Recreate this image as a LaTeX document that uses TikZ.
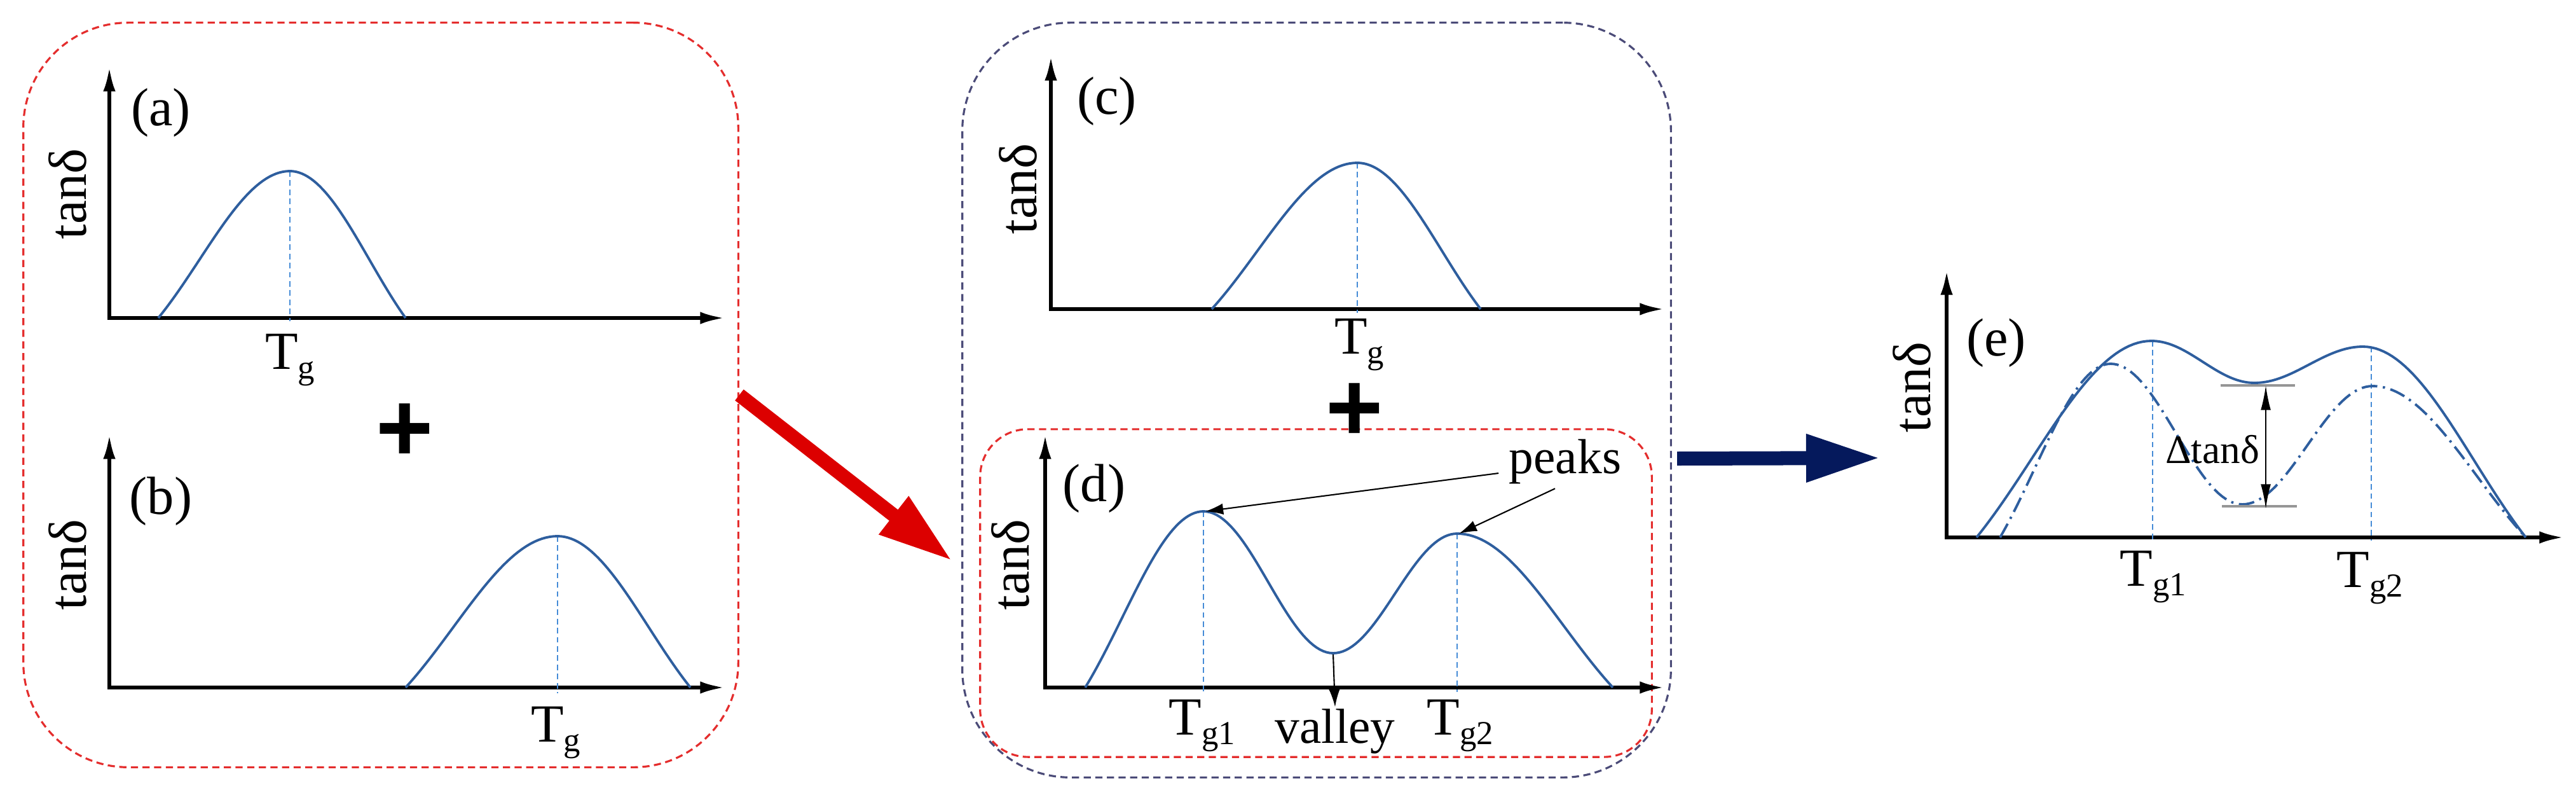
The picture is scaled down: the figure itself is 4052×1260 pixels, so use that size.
\documentclass[tikz,border=0pt]{standalone}
\usepackage{fontspec}
\setmainfont{Liberation Serif}
\setsansfont{Liberation Sans}
\newfontfamily\timesfont{Liberation Serif}
\newfontfamily\plusfont{Liberation Sans}
\usetikzlibrary{arrows.meta}
\definecolor{curveblue}{RGB}{46,94,158}
\definecolor{guideblue}{RGB}{70,140,215}
\definecolor{boxred}{RGB}{228,45,45}
\definecolor{boxnavy}{RGB}{75,75,120}
\definecolor{arrowred}{RGB}{220,0,0}
\definecolor{arrownavy}{RGB}{5,25,92}
\definecolor{bargray}{RGB}{150,150,150}
\newcommand{\Tsub}[1]{T\raisebox{-4.5pt}{\fontsize{15}{15}\selectfont #1}}
\begin{document}
\begin{tikzpicture}[x=0.01cm,y=-0.01cm,
  axisline/.style={line width=1.6pt, {Latex[length=11pt,width=5.5pt]}-{Latex[length=11pt,width=5.5pt]}},
  curve/.style={line width=1.1pt, draw=curveblue},
  ddcurve/.style={curve, dash pattern=on 7pt off 2.5pt on 1pt off 2.5pt},
  guide/.style={line width=0.8pt, draw=guideblue, dash pattern=on 2.5pt off 1.6pt},
  lbl/.style={font=\timesfont\fontsize{24}{28}\selectfont, inner sep=0pt},
  smalllbl/.style={font=\timesfont\fontsize{22}{26}\selectfont, inner sep=0pt},
  ylbl/.style={lbl, rotate=90},
  ptr/.style={line width=0.6pt, -{Latex[length=8pt,width=5pt]}},
  dblptr/.style={line width=0.6pt, {Latex[length=11pt,width=4.5pt]}-{Latex[length=11pt,width=4.5pt]}},
  bigarrow/.style={line width=0.22cm, -{Triangle[length=1.17cm,width=0.7cm]}},
  roundbox/.style={draw, line width=0.9pt, dash pattern=on 3.2pt off 2pt, inner sep=0pt},
  plus/.style={font=\plusfont\bfseries\fontsize{44}{44}\selectfont, inner sep=0pt},
  bar/.style={line width=1.3pt, draw=bargray}
]
\useasboundingbox (0,0) rectangle (4052,1260);

% ---------- boxes ----------
\node[roundbox, draw=boxred, minimum width=11.24cm, minimum height=11.70cm, rounded corners=1.65cm] (boxA) at (599,621) {};
\node[roundbox, draw=boxnavy, minimum width=11.14cm, minimum height=11.86cm, rounded corners=1.7cm] (boxCD) at (2071,629) {};
\node[roundbox, draw=boxred, minimum width=10.56cm, minimum height=5.15cm, rounded corners=0.75cm] (boxD) at (2070,932.5) {};

% ---------- panel (a) ----------
\draw[axisline] (172,105) -- (172,500) -- (1140,500);
\draw[guide] (456,269) -- (456,505);
\draw[curve] plot[domain=0:1,samples=40] ({249+207*\x},{500-231*sin(90*\x)*(0.7+0.3*sin(90*\x))})
  -- plot[domain=0:1,samples=40] ({456+182*\x},{500-231*cos(90*\x)*(0.7+0.3*cos(90*\x))});
\node[lbl] (la) at (253,177) {(a)};
\node[ylbl] (ya) at (106,305) {tanδ};
\node[lbl, anchor=base] (tga) at (456,580) {\Tsub{g}};

\node[plus] (plusA) at (637,680) {+};

% ---------- panel (b) ----------
\draw[axisline] (172,683) -- (172,1081) -- (1140,1081);
\draw[guide] (877,843) -- (877,1090);
\draw[curve] plot[domain=0:1,samples=40] ({638+239*\x},{1081-238*sin(90*\x)*(0.7+0.3*sin(90*\x))})
  -- plot[domain=0:1,samples=40] ({877+209*\x},{1081-238*cos(90*\x)*(0.7+0.3*cos(90*\x))});
\node[lbl] (lb) at (253,788) {(b)};
\node[ylbl] (yb) at (106,888) {tanδ};
\node[lbl, anchor=base] (tgb) at (874,1166) {\Tsub{g}};

% ---------- panel (c) ----------
\draw[axisline] (1653,88) -- (1653,486) -- (2618,486);
\draw[guide] (2135,256) -- (2135,492);
\draw[curve] plot[domain=0:1,samples=40] ({1906+229*\x},{486-230*sin(90*\x)*(0.7+0.3*sin(90*\x))})
  -- plot[domain=0:1,samples=40] ({2135+194*\x},{486-230*cos(90*\x)*(0.7+0.3*cos(90*\x))});
\node[lbl] (lc) at (1741,159) {(c)};
\node[ylbl] (yc) at (1601,297) {tanδ};
\node[lbl, anchor=base] (tgc) at (2138,556) {\Tsub{g}};

\node[plus] (plusC) at (2131,648) {+};

% ---------- panel (d) ----------
\draw[axisline] (1644,683) -- (1644,1081) -- (2618,1081);
\draw[guide] (1893,804) -- (1893,1088);
\draw[guide] (2292,839) -- (2292,1088);
\draw[curve] plot[domain=0:1,samples=40] ({1707+186*\x},{1081-277*sin(90*\x)*(0.7+0.3*sin(90*\x))})
  -- plot[domain=0:1,samples=40] ({1893+204*\x},{804+223*(1-cos(180*\x))/2})
  -- plot[domain=0:1,samples=40] ({2097+195*\x},{1027-188*(1-cos(180*\x))/2})
  -- plot[domain=0:1,samples=40] ({2292+245*\x},{1081-242*cos(90*\x)*(0.7+0.3*cos(90*\x))});
\node[lbl] (ld) at (1721,768) {(d)};
\node[ylbl] (yd) at (1589,888) {tanδ};
\node[lbl, anchor=base] (tgd1) at (1891,1155) {\Tsub{g1}};
\node[lbl, anchor=base] (tgd2) at (2297,1155) {\Tsub{g2}};
\node[smalllbl, anchor=base] (valley) at (2100,1168) {valley};
\node[smalllbl, anchor=base] (peaks) at (2462,744) {peaks};
\coordinate (pk1) at (1896,804);
\coordinate (pk2) at (2295,839);
\coordinate (vl) at (2097,1029);
\draw[ptr] ([xshift=-0.16cm]peaks.base west) -- (pk1);
\draw[ptr] ([shift={(-16,7)}]peaks.south) -- (pk2);
\draw[ptr] (vl) -- ([yshift=0.02cm]valley.north);

% ---------- panel (e) ----------
\draw[axisline] (3062,425) -- (3062,845) -- (4033,845);
\draw[guide] (3386,536) -- (3386,850);
\draw[guide] (3730,545) -- (3730,850);
\draw[curve] plot[domain=0:1,samples=40] ({3109+275*\x},{845-309*sin(90*\x)*(0.7+0.3*sin(90*\x))})
  -- plot[domain=0:1,samples=40] ({3384+162*\x},{536+66*(1-cos(180*\x))/2})
  -- plot[domain=0:1,samples=40] ({3546+171*\x},{602-57*(1-cos(180*\x))/2})
  -- plot[domain=0:1,samples=40] ({3717+256*\x},{845-300*cos(90*\x)*(0.7+0.3*cos(90*\x))});
\draw[ddcurve] plot[domain=0:1,samples=40] ({3146+174*\x},{845-273*sin(90*\x)*(0.7+0.3*sin(90*\x))})
  -- plot[domain=0:1,samples=40] ({3320+207*\x},{572+221*(1-cos(180*\x))/2})
  -- plot[domain=0:1,samples=40] ({3527+205*\x},{793-186*(1-cos(180*\x))/2})
  -- plot[domain=0:1,samples=40] ({3732+241*\x},{845-238*cos(90*\x)*(0.7+0.3*cos(90*\x))});
\coordinate (btl) at (3493,606);
\coordinate (btr) at (3610,606);
\coordinate (bbl) at (3495,796);
\coordinate (bbr) at (3613,796);
\draw[bar] (btl) -- (btr);
\draw[bar] (bbl) -- (bbr);
\coordinate (dtop) at (3564,606);
\coordinate (dbot) at (3564,800);
\draw[dblptr] (dtop) -- (dbot);
\node[lbl] (le) at (3140,539) {(e)};
\node[ylbl] (ye) at (3007,609) {tanδ};
\node[font=\timesfont\fontsize{18}{22}\selectfont, inner sep=0pt, anchor=base] (dtan) at (3480,728) {Δtanδ};
\node[lbl, anchor=base] (tge1) at (3387,921) {\Tsub{g1}};
\node[lbl, anchor=base] (tge2) at (3728,923) {\Tsub{g2}};

% ---------- big arrows ----------
\coordinate (redtip) at (1498,882);
\draw[bigarrow, draw=arrowred, fill=arrowred] (boxA.east) -- (redtip);
\coordinate (navytail) at (2638,721);
\coordinate (navytip) at (2958,720);
\draw[bigarrow, draw=arrownavy, fill=arrownavy] (navytail) -- (navytip);
\end{tikzpicture}
\end{document}
